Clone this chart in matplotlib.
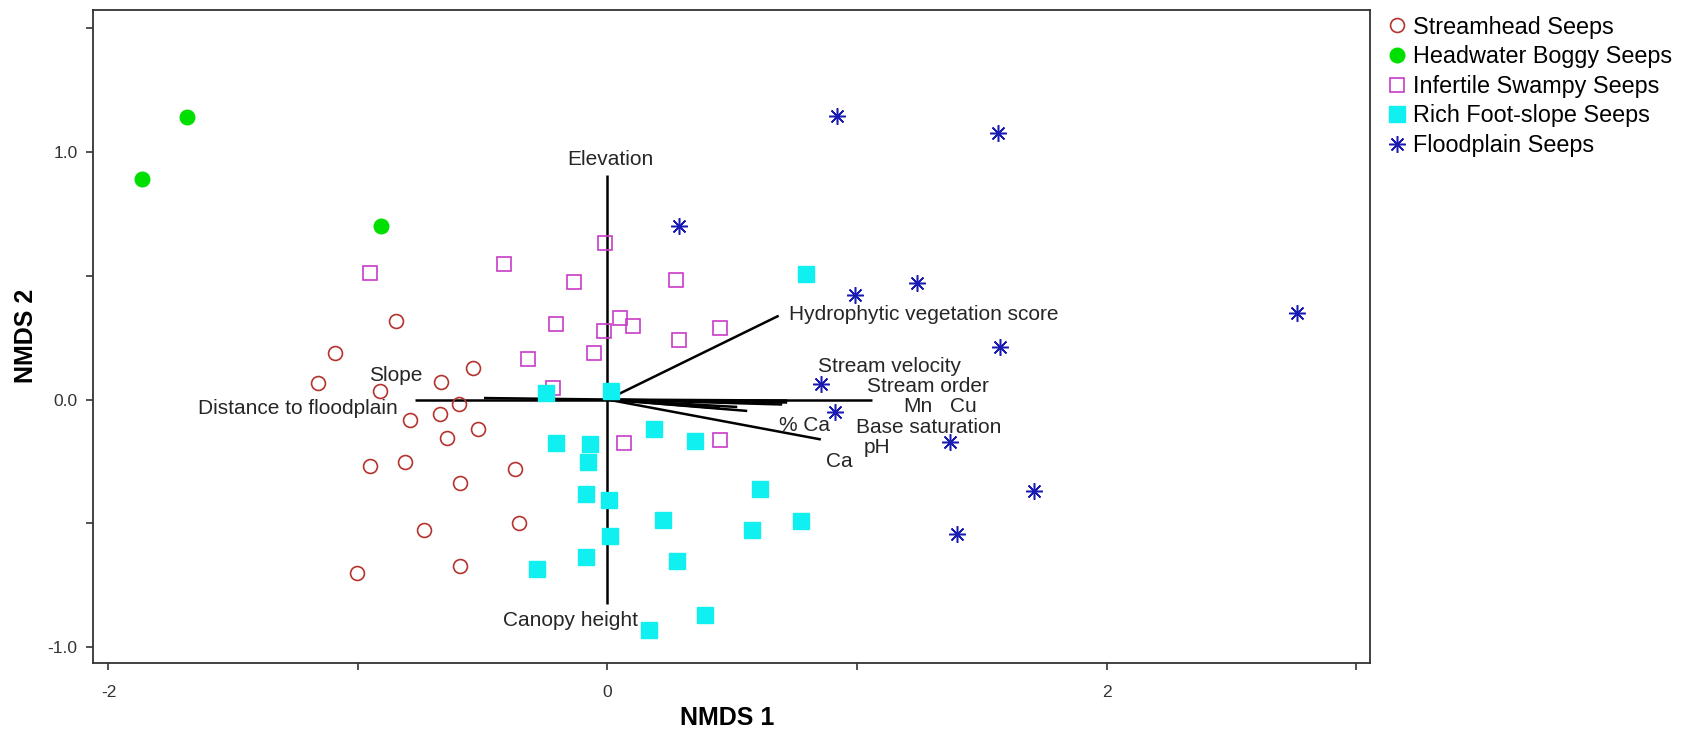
import matplotlib
matplotlib.use("Agg")
import matplotlib.pyplot as plt

plt.rcParams['font.family'] = ['Liberation Sans', 'DejaVu Sans']

# site scores (NMDS 1, NMDS 2) per seep group
streamhead_x = [-0.848, -1.093, -1.160, -0.912, -0.667, -0.539, -0.597, -0.792, -0.672, -0.518,
                -0.645, -0.952, -0.810, -0.371, -0.590, -0.355, -0.737, -0.590, -1.002]
streamhead_y = [0.316, 0.187, 0.066, 0.034, 0.072, 0.127, -0.017, -0.081, -0.060, -0.119,
                -0.155, -0.268, -0.253, -0.280, -0.338, -0.497, -0.526, -0.673, -0.699]

boggy_x = [-1.685, -1.866, -0.909]
boggy_y = [1.138, 0.890, 0.698]

swampy_x = [-0.950, -0.415, -0.134, -0.010, -0.207, -0.014, 0.050, 0.101, -0.320, -0.055,
            -0.218, 0.067, 0.276, 0.285, 0.452, 0.452]
swampy_y = [0.509, 0.545, 0.475, 0.630, 0.305, 0.278, 0.327, 0.295, 0.163, 0.187,
            0.047, -0.176, 0.481, 0.242, 0.289, -0.164]

rich_x = [-0.245, 0.016, -0.207, -0.069, 0.186, 0.350, -0.080, -0.087, 0.006, 0.224,
          0.011, 0.279, -0.087, -0.281, 0.389, 0.165, 0.794, 0.613, 0.579, 0.776]
rich_y = [0.025, 0.036, -0.176, -0.180, -0.119, -0.169, -0.253, -0.382, -0.405, -0.486,
          -0.552, -0.650, -0.636, -0.685, -0.870, -0.929, 0.505, -0.362, -0.527, -0.491]

flood_x = [0.285, 0.918, 1.565, 0.991, 1.242, 2.762, 1.575, 0.857, 0.912, 1.373, 1.711, 1.400]
flood_y = [0.698, 1.142, 1.076, 0.420, 0.471, 0.348, 0.210, 0.064, -0.051, -0.170, -0.369, -0.543]

# environmental vectors (end points)
vec_names = ['Elevation', 'Canopy height', 'Distance to floodplain', 'Slope',
             'Hydrophytic vegetation score', 'Stream order', 'Stream velocity', 'Mn', 'Cu',
             'Base saturation', 'pH', '% Ca', 'Ca']
vec_x = [0.0, 0.0, -0.771, -0.495, 0.686, 1.062, 0.72, 0.72, 0.70, 0.56, 0.52, 0.45, 0.855]
vec_y = [0.905, -0.826, 0.0, 0.006, 0.338, 0.0, -0.004, -0.012, -0.02, -0.046, -0.03, -0.035, -0.161]

x_ticks = [-2, -1, 0, 1, 2, 3]
x_ticklabels = ['-2', '', '0', '', '2', '']
y_ticks = [-1.0, -0.5, 0.0, 0.5, 1.0, 1.5]
y_ticklabels = ['-1.0', '', '0.0', '', '1.0', '']

fig = plt.figure(figsize=(16.86, 7.37), dpi=100)
ax = fig.add_axes([0.055, 0.101, 0.7576, 0.886])

# vectors first so points sit on top
for vx, vy in zip(vec_x, vec_y):
    ax.plot([0, vx], [0, vy], color='black', lw=1.8, solid_capstyle='butt', zorder=1)

# where each vector label is written
label_pos = {
    'Elevation': (0.013, 0.968, 'center'),
    'Canopy height': (-0.147, -0.892, 'center'),
    'Distance to floodplain': (-1.242, -0.038, 'center'),
    'Slope': (-0.849, 0.098, 'center'),
    'Hydrophytic vegetation score': (0.726, 0.344, 'left'),
    'Stream velocity': (0.845, 0.135, 'left'),
    'Stream order': (1.041, 0.051, 'left'),
    'Mn': (1.243, -0.029, 'center'),
    'Cu': (1.426, -0.029, 'center'),
    'Base saturation': (0.996, -0.113, 'left'),
    'pH': (1.079, -0.193, 'center'),
    '% Ca': (0.687, -0.103, 'left'),
    'Ca': (0.930, -0.251, 'center'),
}
for name in vec_names:
    tx, ty, ha = label_pos[name]
    ax.text(tx, ty, name, ha=ha, va='center', fontsize=15, color='#262626', zorder=2)

ax.plot(streamhead_x, streamhead_y, 'o', ls='none', mfc='none', mec='#b5332e', ms=10, mew=1.2,
        label='Streamhead Seeps', zorder=3)
ax.plot(boggy_x, boggy_y, 'o', ls='none', color='#00e000', ms=10.5,
        label='Headwater Boggy Seeps', zorder=3)
ax.plot(swampy_x, swampy_y, 's', ls='none', mfc='none', mec='#c83cc8', ms=10, mew=1.2,
        label='Infertile Swampy Seeps', zorder=3)
ax.plot(rich_x, rich_y, 's', ls='none', color='#11f0f0', ms=11,
        label='Rich Foot-slope Seeps', zorder=3)
ax.plot(flood_x, flood_y, marker=(8, 2, 0), ls='none', color='#1a1ab4', ms=12, mew=1.1,
        label='Floodplain Seeps', zorder=3)

ax.set_xlim(-2.063, 3.056)
ax.set_ylim(-1.061, 1.573)
ax.set_xticks(x_ticks)
ax.set_xticklabels(x_ticklabels)
ax.set_yticks(y_ticks)
ax.set_yticklabels(y_ticklabels)
ax.tick_params(direction='out', length=5, width=1.2, colors='#333333', labelsize=12.5)
ax.tick_params(axis='x', pad=11)
ax.tick_params(axis='y', pad=6)
for sp in ax.spines.values():
    sp.set_linewidth(1.3)
    sp.set_color('#333333')

fig.text(0.4312, 0.0258, 'NMDS 1', ha='center', va='center', fontsize=18, fontweight='bold')
fig.text(0.0154, 0.544, 'NMDS 2', ha='center', va='center', fontsize=18, fontweight='bold',
         rotation=90)

fig.legend(loc='upper left', bbox_to_anchor=(1387.4 / 1686, 0.9788), frameon=False,
           fontsize=16.8, borderpad=0, borderaxespad=0, handlelength=0.8,
           handletextpad=0.3, labelspacing=0.28)

fig.savefig('out.png', dpi=100)
